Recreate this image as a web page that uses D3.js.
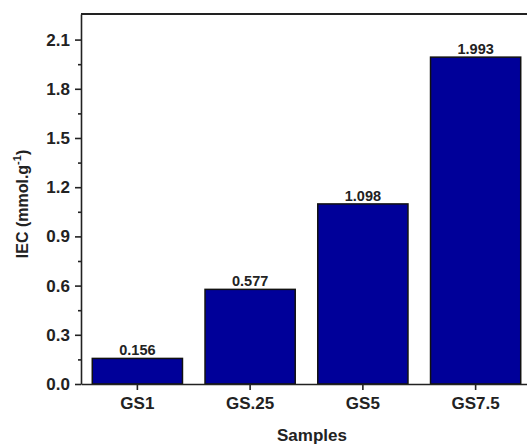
<!DOCTYPE html>
<html>
<head>
<meta charset="utf-8">
<script src="https://cdn.jsdelivr.net/npm/d3@7"></script>
<style>
  body { margin: 0; background: #fff; }
  svg { display: block; font-family: Arial, "Liberation Sans", sans-serif; }
  .axis text { font-size: 17px; font-weight: bold; fill: #222; }
  .axis path, .axis line { stroke: #222; stroke-width: 1.6; }
</style>
</head>
<body>
<svg id="chart"></svg>
<script>
// данные диаграммы
const samples = ["GS1", "GS.25", "GS5", "GS7.5"];
const iecValues = [0.156, 0.577, 1.098, 1.993];
const yTicks = [0.0, 0.3, 0.6, 0.9, 1.2, 1.5, 1.8, 2.1];
const yMinorTicks = [0.15, 0.45, 0.75, 1.05, 1.35, 1.65, 1.95];
const valueLabels = ["0.156", "0.577", "1.098", "1.993"];

const width = 527;
const height = 446;
const plotLeft = 81, plotTop = 14, plotBottom = 384, plotRight = 532;

const svg = d3.select("#chart")
  .attr("width", width)
  .attr("height", height);

const data = samples.map((s, i) => ({ label: s, value: iecValues[i], text: valueLabels[i] }));

// шкалы
const scaleX = d3.scaleBand()
  .domain(samples)
  .range([plotLeft, plotRight])
  .paddingInner(0.2)
  .paddingOuter(0.1);

const scaleY = d3.scaleLinear()
  .domain([0, 2.256])
  .range([plotBottom, plotTop]);

// рамка сверху
svg.append("line")
  .attr("x1", plotLeft).attr("x2", plotRight)
  .attr("y1", plotTop).attr("y2", plotTop)
  .attr("stroke", "#222").attr("stroke-width", 2);

// столбики
svg.append("g")
  .selectAll("rect")
  .data(data)
  .enter().append("rect")
  .attr("x", d => scaleX(d.label))
  .attr("width", scaleX.bandwidth())
  .attr("y", d => scaleY(d.value))
  .attr("height", d => scaleY(0) - scaleY(d.value))
  .attr("fill", "#000099")
  .attr("stroke", "#111")
  .attr("stroke-width", 1.5);

// подписи значений
svg.append("g")
  .selectAll("text")
  .data(data)
  .enter().append("text")
  .attr("x", d => scaleX(d.label) + scaleX.bandwidth() / 2)
  .attr("y", d => scaleY(d.value) - 3)
  .attr("text-anchor", "middle")
  .style("font-size", "14.5px")
  .style("font-weight", "bold")
  .style("fill", "#222")
  .text(d => d.text);

// ось OY
svg.append("g")
  .attr("class", "axis")
  .attr("transform", `translate(${plotLeft},0)`)
  .call(d3.axisLeft(scaleY).tickValues(yTicks).tickFormat(d3.format(".1f")).tickSize(6).tickSizeOuter(0).tickPadding(5));

svg.append("g")
  .attr("class", "axis")
  .attr("transform", `translate(${plotLeft},0)`)
  .call(d3.axisLeft(scaleY).tickValues(yMinorTicks).tickFormat("").tickSize(3).tickSizeOuter(0))
  .select("path").remove();

// ось OX
svg.append("g")
  .attr("class", "axis")
  .attr("transform", `translate(0,${plotBottom})`)
  .call(d3.axisBottom(scaleX).tickSize(6).tickSizeOuter(0).tickPadding(7));

// подписи осей
svg.append("text")
  .attr("transform", `translate(28,204) rotate(-90)`)
  .attr("text-anchor", "middle")
  .style("font-size", "16px")
  .style("font-weight", "bold")
  .style("fill", "#222")
  .html('IEC (mmol.g<tspan dy="-7" font-size="11px">-1</tspan><tspan dy="7">)</tspan>');

svg.append("text")
  .attr("x", 312)
  .attr("y", 441)
  .attr("text-anchor", "middle")
  .style("font-size", "17px")
  .style("font-weight", "bold")
  .style("fill", "#222")
  .text("Samples");
</script>
</body>
</html>
